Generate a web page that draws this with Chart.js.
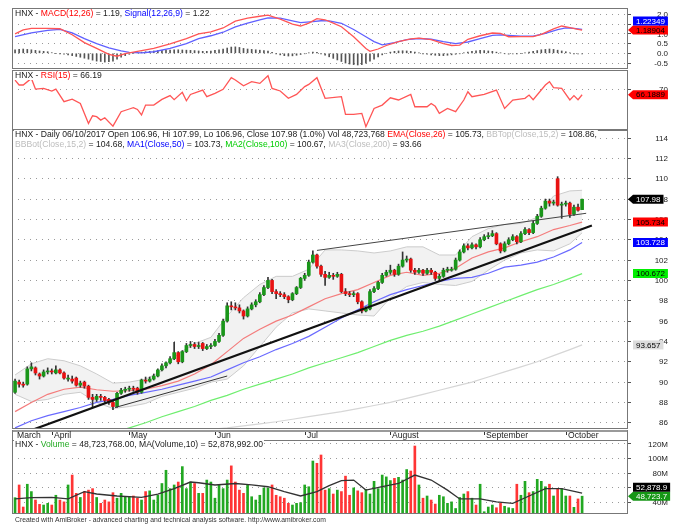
<!DOCTYPE html>
<html>
<head>
<meta charset="utf-8">
<script src="https://cdn.jsdelivr.net/npm/chart.js@4.4.1/dist/chart.umd.min.js"></script>
<style>
  html, body { margin: 0; padding: 0; background: #fff; }
  #wrap { position: relative; width: 678px; height: 524px; }
  #wrap canvas { position: absolute; left: 0; top: 0; }
</style>
</head>
<body>
<div id="wrap">
  <canvas id="priceChart" width="678" height="524"></canvas>
  <canvas id="macdChart" width="678" height="524"></canvas>
  <canvas id="rsiChart" width="678" height="524"></canvas>
  <canvas id="volumeChart" width="678" height="524"></canvas>
</div>
<script>
// month labels on the date strip, bar index where each month starts
var months = ['March', 'April', 'May', 'Jun', 'Jul', 'August', 'September', 'October'];
var monthStart = [0, 9, 28, 49, 71, 92, 115, 135];

// daily candles, HNX index (bar 0 = 21/03/2017, bar 139 = 06/10/2017)
var opens = [
    89.0, 90.0, 89.8, 89.8, 91.3, 91.4, 90.8, 90.6, 91.0, 91.1,
    90.9, 91.2, 90.9, 90.3, 90.3, 90.4, 89.7, 90.0, 89.6, 88.5,
    88.3, 88.6, 88.5, 88.3, 88.0, 87.6, 88.9, 89.2, 89.3, 89.4,
    89.4, 89.0, 90.2, 90.1, 90.3, 90.6, 91.2, 91.6, 91.9, 92.3,
    92.9, 92.0, 93.0, 93.6, 93.7, 93.5, 93.8, 93.3, 93.5, 93.6,
    94.0, 94.6, 96.0, 97.5, 97.4, 97.3, 97.0, 96.5, 97.2, 97.6,
    97.9, 98.6, 99.3, 100.0, 98.9, 98.7, 98.6, 98.4, 98.1, 98.7,
    99.3, 100.2, 100.5, 101.8, 102.5, 101.4, 100.6, 100.3, 100.5, 100.4,
    100.6, 98.9, 98.7, 98.6, 98.7, 97.9, 97.0, 97.2, 98.9, 99.2,
    99.8, 100.5, 100.8, 101.0, 100.6, 101.4, 102.0, 102.1, 101.0, 100.8,
    101.0, 100.7, 101.0, 100.8, 100.2, 100.4, 101.0, 101.0, 101.1, 102.0,
    102.8, 103.4, 103.2, 103.5, 103.3, 104.0, 104.3, 104.4, 104.6, 103.6,
    102.9, 103.6, 104.0, 104.3, 103.8, 104.6, 105.0, 104.7, 105.6, 106.3,
    107.1, 107.8, 107.6, 110.0, 107.4, 107.5, 107.6, 106.5, 107.2, 106.96
];
var highs = [
    90.3, 90.2, 90.0, 91.5, 91.9, 91.5, 90.9, 91.2, 91.4, 91.3,
    91.6, 91.3, 91.0, 90.7, 90.6, 90.5, 90.1, 90.1, 89.7, 88.8,
    88.8, 88.8, 88.6, 88.4, 88.1, 89.0, 89.4, 89.5, 89.6, 89.6,
    89.5, 90.3, 90.5, 90.5, 90.8, 91.3, 91.8, 92.0, 92.5, 93.9,
    93.0, 93.1, 93.8, 94.0, 93.9, 93.9, 93.9, 93.7, 93.8, 94.2,
    94.8, 96.2, 97.8, 97.9, 97.8, 97.6, 97.1, 97.4, 97.8, 98.1,
    98.8, 99.5, 100.3, 100.1, 99.1, 98.9, 98.8, 98.5, 98.8, 99.4,
    100.3, 100.7, 102.0, 102.9, 102.6, 101.5, 100.9, 100.8, 100.7, 100.8,
    100.7, 99.2, 98.9, 98.9, 98.8, 98.0, 97.4, 99.1, 99.4, 99.9,
    100.7, 101.0, 101.5, 101.1, 101.6, 102.8, 102.4, 102.2, 101.2, 101.2,
    101.1, 101.2, 101.2, 100.9, 100.6, 101.2, 101.3, 101.3, 102.2, 103.0,
    103.6, 103.6, 103.7, 103.6, 104.2, 104.5, 104.7, 104.9, 104.7, 103.7,
    103.8, 104.2, 104.5, 104.4, 104.8, 105.2, 105.1, 105.8, 106.5, 107.3,
    108.0, 108.0, 107.9, 110.2, 107.7, 107.8, 107.7, 107.4, 107.5, 107.99
];
var lows = [
    88.9, 89.5, 89.5, 89.7, 91.1, 90.7, 90.3, 90.5, 90.8, 90.8,
    90.8, 90.8, 90.3, 90.1, 89.9, 89.6, 89.5, 89.4, 88.3, 87.5,
    88.1, 88.2, 88.0, 87.8, 87.3, 87.5, 88.8, 89.0, 89.1, 89.1,
    88.8, 88.9, 89.9, 90.0, 90.2, 90.5, 91.1, 91.4, 91.8, 92.2,
    91.8, 91.9, 92.9, 93.4, 93.3, 93.3, 93.1, 93.2, 93.3, 93.5,
    93.9, 94.5, 95.9, 97.1, 97.1, 96.8, 96.2, 96.4, 97.1, 97.4,
    97.8, 98.5, 99.2, 98.7, 98.2, 98.4, 98.2, 97.8, 98.0, 98.6,
    99.2, 100.0, 100.4, 101.7, 101.2, 100.4, 99.5, 100.2, 100.1, 100.3,
    98.8, 98.5, 98.4, 98.4, 97.7, 96.8, 96.9, 97.1, 98.8, 99.1,
    99.7, 100.4, 100.6, 100.4, 100.5, 101.3, 101.8, 100.8, 100.6, 100.7,
    100.5, 100.6, 100.6, 100.0, 99.9, 100.3, 100.8, 100.9, 101.0, 101.9,
    102.7, 103.0, 103.1, 103.1, 103.2, 103.9, 104.1, 104.3, 103.5, 102.7,
    102.8, 103.5, 103.9, 103.6, 103.7, 104.5, 104.5, 104.6, 105.5, 106.2,
    107.0, 107.3, 107.4, 107.3, 106.1, 107.3, 106.2, 106.4, 106.8, 106.96
];
var closes = [
    90.1, 89.8, 89.7, 91.3, 91.5, 90.9, 90.6, 91.0, 91.1, 91.0,
    91.2, 90.9, 90.4, 90.3, 90.1, 89.7, 89.9, 89.6, 88.5, 88.3,
    88.6, 88.5, 88.2, 88.0, 87.6, 88.9, 89.2, 89.3, 89.4, 89.3,
    89.0, 90.2, 90.1, 90.3, 90.6, 91.2, 91.6, 91.9, 92.3, 92.9,
    92.0, 93.0, 93.6, 93.7, 93.5, 93.6, 93.3, 93.5, 93.6, 94.0,
    94.6, 96.0, 97.5, 97.4, 97.3, 97.0, 96.5, 97.2, 97.6, 97.9,
    98.6, 99.3, 100.0, 98.9, 98.7, 98.6, 98.4, 98.1, 98.7, 99.3,
    100.2, 100.5, 101.8, 102.5, 101.4, 100.6, 100.3, 100.5, 100.4, 100.6,
    98.9, 98.7, 98.6, 98.7, 97.9, 97.0, 97.2, 98.9, 99.2, 99.8,
    100.5, 100.8, 101.0, 100.6, 101.4, 102.0, 102.1, 101.0, 100.8, 101.0,
    100.7, 101.0, 100.8, 100.2, 100.4, 101.0, 101.0, 101.1, 102.0, 102.8,
    103.4, 103.2, 103.5, 103.3, 104.0, 104.3, 104.4, 104.6, 103.6, 102.9,
    103.6, 104.0, 104.3, 103.8, 104.6, 105.0, 104.7, 105.6, 106.3, 107.1,
    107.8, 107.6, 107.6, 107.4, 107.5, 107.6, 106.5, 107.2, 106.9, 107.98
];
// volume in millions
var volumes = [
    46.7, 64, 34, 65, 55, 43.5, 37.6, 36.7, 39, 36.7,
    50, 43.5, 41, 64, 77.5, 52.6, 47, 55, 57, 59,
    47, 39, 43.5, 41, 53.5, 46, 52.6, 48, 48, 49,
    46, 43.5, 55, 56, 43.5, 50, 66, 84, 59, 64,
    68, 89, 59, 68, 66, 52.6, 52.6, 70.7, 68, 46,
    64, 59, 70.7, 90, 68, 57, 52.6, 64, 48, 43.5,
    50, 60, 60, 64, 50, 48, 46, 39, 36.7, 39,
    40, 64, 61.6, 96.6, 93.5, 104.8, 57, 59, 51.7, 57,
    55, 76, 50, 60, 56, 53.5, 58, 51.7, 69, 59,
    77.5, 75, 70, 73, 74.4, 70.7, 85, 83, 117, 64,
    46, 49, 43.5, 38, 50, 48, 39, 41, 32, 47,
    51.7, 55, 46, 36.7, 65, 27.6, 34, 36.7, 33, 39,
    35, 33, 32, 65, 50, 69, 53.5, 55, 71.7, 69,
    61.6, 65, 49, 59, 59, 49, 49, 33.6, 45, 48.723768
];

// price overlays read at these bars
var overlayIdx = [0, 4, 8, 12, 16, 20, 24, 28, 32, 36, 40, 44, 48, 52, 56, 60, 64, 68,
    72, 76, 80, 84, 88, 92, 96, 100, 104, 108, 112, 116, 120, 124, 128, 132, 136, 139];
var ema26 = [87.1, 88.0, 88.8, 89.3, 89.5, 89.25, 89.1, 89.15, 89.3, 89.65, 90.1, 90.8, 91.7, 93.0, 94.3, 95.2, 96.0, 96.6,
    97.4, 98.2, 98.7, 99.1, 99.8, 100.5, 100.8, 100.5, 100.7, 101.2, 102.2, 102.8, 103.2, 103.8, 104.3, 105.0, 105.4, 105.734];
var ma50 = [85.5, 86.2, 86.7, 87.1, 87.5, 88.0, 88.3, 88.7, 89.0, 89.3, 89.7, 90.1, 90.5, 91.2, 91.9, 92.5, 93.2, 93.8,
    94.5, 95.4, 96.3, 97.1, 97.9, 98.6, 99.1, 99.5, 99.9, 100.2, 100.3, 100.7, 101.3, 101.5, 101.8, 102.3, 103.0, 103.728];
var ma100 = [81.8, 82.3, 82.9, 83.4, 84.0, 84.5, 85.0, 85.5, 86.0, 86.6, 87.1, 87.6, 88.2, 88.7, 89.3, 89.8, 90.3, 90.8,
    91.4, 91.9, 92.4, 92.9, 93.5, 94.1, 94.6, 95.0, 95.5, 96.1, 96.7, 97.3, 97.9, 98.5, 99.1, 99.6, 100.2, 100.672];
var ma200 = [83.2, 83.4, 83.6, 83.8, 84.0, 84.2, 84.4, 84.6, 84.8, 84.95, 85.1, 85.25, 85.35, 85.5, 85.7, 85.9, 86.1, 86.35,
    86.6, 86.85, 87.1, 87.4, 87.7, 88.0, 88.4, 88.8, 89.2, 89.6, 90.0, 90.5, 91.0, 91.5, 92.0, 92.6, 93.2, 93.657];
var bbTop = [90.7, 91.8, 92.3, 92.1, 91.6, 90.8, 89.9, 90.0, 90.3, 91.1, 92.8, 93.8, 94.4, 96.5, 98.3, 99.6, 100.4, 100.4,
    101.1, 103.0, 103.0, 102.9, 102.7, 102.9, 103.3, 103.3, 102.5, 102.5, 104.3, 105.1, 105.5, 105.6, 106.2, 108.3, 108.8, 108.86];
var bbBot = [88.8, 88.1, 88.3, 88.8, 89.0, 88.0, 87.4, 87.6, 87.9, 88.6, 89.0, 89.4, 90.0, 90.3, 91.6, 93.5, 95.4, 96.8,
    97.2, 97.0, 96.8, 96.6, 96.5, 98.3, 99.4, 99.8, 99.6, 99.5, 99.9, 101.0, 102.0, 102.7, 103.0, 102.9, 103.6, 104.68];

// drawn trend lines (bar, price)
var supportIdx = [3.5, 141.4];
var supportVals = [85.2, 105.4];
var aprilLineIdx = [24.5, 52];
var aprilLineVals = [87.5, 90.6];
var upperLineIdx = [74, 140];
var upperLineVals = [102.95, 106.6];

// MACD(12,26), signal(12,26,9), histogram
var macdIdx = [0, 2, 4, 8, 11, 14, 17, 20, 23, 25, 27, 30, 34, 38, 42, 45, 48, 51, 54, 57, 60, 62, 65, 68, 70, 72, 74, 76, 78, 80,
    83, 86, 87, 89, 91, 94, 97, 99, 102, 105, 107, 109, 111, 114, 117, 119, 121, 124, 127, 129, 132, 134, 136, 138, 139];
var macdVals = [1.00, 1.20, 1.28, 1.28, 1.26, 0.95, 0.55, 0.25, -0.05, -0.15, -0.02, 0.10, 0.25, 0.48, 0.75, 1.00, 1.10, 1.30, 1.65, 1.80,
    1.90, 1.96, 1.75, 1.50, 1.40, 1.55, 1.78, 1.72, 1.55, 1.36, 0.85, 0.25, 0.10, 0.22, 0.40, 0.60, 0.74, 0.78, 0.70, 0.50,
    0.40, 0.42, 0.72, 0.90, 1.04, 1.02, 0.85, 0.86, 0.86, 0.97, 1.25, 1.40, 1.32, 1.23, 1.18904];
var signalIdx = [0, 4, 8, 11, 14, 17, 20, 23, 26, 28, 31, 34, 38, 42, 45, 48, 51, 54, 57, 60, 62, 65, 68, 70, 73,
    75, 77, 80, 83, 86, 88, 90, 93, 96, 99, 102, 105, 108, 111, 114, 117, 119, 121, 124, 127, 130, 133, 135, 137, 139];
var signalVals = [0.85, 1.05, 1.18, 1.23, 1.05, 0.75, 0.50, 0.28, 0.12, 0.05, 0.02, 0.08, 0.25, 0.50, 0.75, 0.90, 1.08, 1.35, 1.55, 1.72,
    1.82, 1.80, 1.66, 1.57, 1.62, 1.67, 1.66, 1.54, 1.22, 0.85, 0.60, 0.43, 0.55, 0.70, 0.76, 0.72, 0.60, 0.50, 0.58, 0.75,
    0.92, 0.94, 0.92, 0.88, 0.88, 1.02, 1.22, 1.30, 1.28, 1.22349];
var macdHist = [
    0.18, 0.20, 0.22, 0.20, 0.18, 0.15, 0.12, 0.10, 0.08, 0.03,
    0.00, -0.02, -0.05, -0.08, -0.12, -0.16, -0.20, -0.25, -0.30, -0.35,
    -0.40, -0.42, -0.45, -0.43, -0.40, -0.30, -0.20, -0.12, -0.05, 0.00,
    0.03, 0.06, 0.08, 0.10, 0.12, 0.14, 0.15, 0.16, 0.17, 0.18,
    0.18, 0.17, 0.16, 0.15, 0.14, 0.12, 0.10, 0.10, 0.12, 0.15,
    0.18, 0.22, 0.27, 0.32, 0.33, 0.30, 0.25, 0.22, 0.20, 0.18,
    0.16, 0.14, 0.12, 0.05, -0.02, -0.08, -0.12, -0.14, -0.13, -0.10,
    -0.06, -0.02, 0.02, 0.06, 0.05, -0.02, -0.10, -0.18, -0.26, -0.34,
    -0.42, -0.50, -0.55, -0.58, -0.60, -0.58, -0.50, -0.40, -0.30, -0.18,
    -0.08, 0.00, 0.06, 0.10, 0.12, 0.13, 0.12, 0.10, 0.06, 0.02,
    -0.02, -0.05, -0.08, -0.10, -0.12, -0.12, -0.10, -0.08, -0.05, -0.02,
    0.02, 0.06, 0.10, 0.13, 0.15, 0.14, 0.12, 0.10, 0.06, 0.02,
    -0.02, -0.04, -0.03, -0.02, 0.00, 0.03, 0.06, 0.10, 0.14, 0.18,
    0.20, 0.22, 0.20, 0.16, 0.12, 0.08, 0.02, -0.01, -0.03, -0.03
];

// RSI(15)
var rsiIdx = [0, 1, 2, 4, 5, 7, 9, 10, 12, 14, 16, 18, 19, 20, 21, 22, 24, 26, 28, 29, 30, 31, 32, 34, 36, 38, 39, 41, 42, 43,
    46, 47, 49, 51, 53, 54, 56, 58, 60, 62, 63, 65, 67, 69, 71, 72, 74, 76, 80, 81, 83, 85, 86, 88, 90, 92, 94, 97, 98,
    101, 102, 103, 104, 106, 108, 110, 111, 112, 115, 118, 120, 122, 125, 126, 127, 130, 131, 132, 134, 136, 137, 138, 139];
var rsiVals = [76, 72.7, 72.7, 77.1, 70, 70.4, 68.7, 70, 61.6, 63.3, 60.4, 47.1, 52.2, 51.6, 49.3, 50.9, 45.3, 54.9, 56.7, 57.6,
    56.4, 52.7, 59.3, 59.3, 63.1, 65.6, 62.9, 67.8, 62.2, 66.4, 69.3, 64.9, 67.1, 69.8, 77.6, 76, 72.2, 74.9, 73.8, 78.9,
    70.4, 68.7, 63.8, 66.4, 71.6, 73.1, 77.6, 63.8, 64.9, 53.1, 53.1, 53.8, 44.9, 57.1, 59.3, 64.2, 62.7, 66.4, 58.2,
    58.2, 60.4, 58.5, 53.8, 57.1, 54.9, 62.7, 68.2, 64.9, 66.4, 69.3, 57.1, 62.7, 63.8, 66, 62.9, 72.7, 74.9, 70.9, 70.4,
    62.7, 65.6, 62.9, 66.1889];

// MA(Volume,10), millions
var volMaIdx = [0, 4, 9, 13, 17, 20, 25, 31, 35, 39, 43, 45, 49, 54, 58, 62, 66, 70, 74, 77, 80, 83, 86, 90, 94, 98, 102, 106,
    109, 114, 118, 122, 126, 130, 134, 139];
var volMaVals = [45, 46.7, 47, 45, 55, 51.7, 49, 47, 51.7, 59, 68, 67, 64, 66, 64, 61.6, 55, 49, 55, 63, 70, 70.7, 57, 61.6, 66,
    77.5, 70.7, 57, 45, 45, 41, 39, 49, 59, 59, 52.878992];

// axis ticks
var priceTicks = [86, 88, 90, 92, 94, 96, 98, 100, 102, 104, 106, 108, 110, 112, 114];
var macdTicks = [-0.5, 0, 0.5, 1, 1.5, 2];
var rsiTicks = [70];
var volumeTicks = [40, 60, 80, 100, 120];

var FONT = '"Liberation Sans", Arial, sans-serif';
var DARK = '#222222';
var RED = '#ff0000', BLUE = '#0000ff', GREEN = '#00cc00', LIGHT = '#bdbdbd';

document.addEventListener('DOMContentLoaded', function () {
    Chart.defaults.font.family = FONT;
    Chart.defaults.font.size = 8;
    Chart.defaults.color = DARK;

    var last = closes.length - 1;

    function points(idx, vals) {
        return idx.map(function (x, k) { return { x: x, y: vals[k] }; });
    }

    function lineSet(data, color, width, order) {
        return { type: 'line', data: data, borderColor: color, borderWidth: width, pointRadius: 0,
            tension: 0, fill: false, order: order, clip: 0 };
    }

    function money(v, digits) {
        return v.toLocaleString('en-US', { minimumFractionDigits: digits, maximumFractionDigits: digits });
    }

    function options(top, bottom, yMin, yMax, ticks) {
        return {
            responsive: false,
            animation: false,
            events: [],
            layout: { padding: { left: 12, right: 0, top: top, bottom: 524 - bottom } },
            plugins: { legend: { display: false }, tooltip: { enabled: false } },
            scales: {
                x: { type: 'linear', min: -0.75, max: 150.25, offset: false, display: false },
                y: {
                    position: 'right',
                    min: yMin,
                    max: yMax,
                    afterBuildTicks: function (s) { s.ticks = ticks.map(function (v) { return { value: v }; }); },
                    afterFit: function (s) { s.width = 50; },
                    ticks: { display: false },
                    grid: { color: '#9a9a9a', lineWidth: 1, tickLength: 3, tickColor: '#555', tickBorderDash: [] },
                    border: { display: false, dash: [1, 5] }
                }
            }
        };
    }

    function frame(ctx, a) {
        ctx.save();
        ctx.strokeStyle = '#777';
        ctx.lineWidth = 1;
        ctx.strokeRect(a.left + 0.5, a.top + 0.5, a.right - a.left - 1, a.bottom - a.top - 1);
        ctx.restore();
    }

    // right-aligned value labels of the right axis
    function axisLabels(chart, ticks, fmt) {
        var ctx = chart.ctx, ys = chart.scales.y;
        ctx.save();
        ctx.font = '8px ' + FONT;
        ctx.textBaseline = 'middle';
        ctx.textAlign = 'right';
        ctx.fillStyle = DARK;
        ticks.forEach(function (v) {
            ctx.fillText(fmt(v), 668, ys.getPixelForValue(v) + 0.5);
        });
        ctx.restore();
    }

    function title(ctx, x, y, segs) {
        ctx.save();
        ctx.font = '8.6px ' + FONT;
        ctx.textBaseline = 'middle';
        ctx.textAlign = 'left';
        var w = 0;
        segs.forEach(function (s) { w += ctx.measureText(s[0]).width; });
        ctx.fillStyle = '#fff';
        ctx.fillRect(x - 1, y - 4.5, w + 2, 9);
        segs.forEach(function (s) {
            ctx.fillStyle = s[1] || DARK;
            ctx.fillText(s[0], x, y);
            x += ctx.measureText(s[0]).width;
        });
        ctx.restore();
    }

    function badges(chart, list) {
        var ctx = chart.ctx, a = chart.chartArea, ys = chart.scales.y, h = 9, placed = [];
        ctx.save();
        ctx.font = '8px ' + FONT;
        ctx.textBaseline = 'middle';
        ctx.textAlign = 'left';
        list.forEach(function (b) {
            var py = ys.getPixelForValue(b.value);
            placed.forEach(function (p) { if (Math.abs(p - py) < h) { py = p - h; } });
            placed.push(py);
            var x0 = a.right + 5, x1 = x0 + ctx.measureText(b.text).width + 6;
            ctx.beginPath();
            if (b.arrow) {
                ctx.moveTo(a.right, py);
                ctx.lineTo(x0, py - h / 2);
            } else {
                ctx.moveTo(x0, py - h / 2);
            }
            ctx.lineTo(x1, py - h / 2);
            ctx.lineTo(x1, py + h / 2);
            ctx.lineTo(x0, py + h / 2);
            ctx.closePath();
            ctx.fillStyle = b.bg;
            ctx.fill();
            ctx.fillStyle = b.fg;
            ctx.fillText(b.text, x0 + 3, py + 0.5);
        });
        ctx.restore();
    }

    var UP = '#1a961a', DOWN = '#e81212';
    var candleColors = closes.map(function (c, i) { return c >= opens[i] ? UP : DOWN; });
    var volColors = closes.map(function (c, i) { return c >= opens[i] ? '#22a822' : '#ff3535'; });

    // ---- price panel ----
    var pricePanel = {
        id: 'pricePanel',
        afterDraw: function (chart) {
            var ctx = chart.ctx, a = chart.chartArea, xs = chart.scales.x;
            frame(ctx, a);
            axisLabels(chart, priceTicks, function (v) { return String(v); });
            var chg = (closes[last] / closes[last - 1] - 1) * 100;
            title(ctx, 15, a.top + 4.5, [
                ['HNX - Daily 06/10/2017 Open ' + opens[last].toFixed(2) + ', Hi ' + highs[last].toFixed(2) +
                    ', Lo ' + lows[last].toFixed(2) + ', Close ' + closes[last].toFixed(2) + ' (' + chg.toFixed(1) +
                    '%) Vol ' + money(volumes[last] * 1e6, 0) + ' '],
                ['EMA(Close,26)', RED], [' = ' + ema26[ema26.length - 1].toFixed(2) + ', '],
                ['BBTop(Close,15,2)', LIGHT], [' = ' + bbTop[bbTop.length - 1].toFixed(2) + ',']
            ]);
            title(ctx, 15, a.top + 14.5, [
                ['BBBot(Close,15,2)', LIGHT], [' = ' + bbBot[bbBot.length - 1].toFixed(2) + ', '],
                ['MA1(Close,50)', BLUE], [' = ' + ma50[ma50.length - 1].toFixed(2) + ', '],
                ['MA2(Close,100)', GREEN], [' = ' + ma100[ma100.length - 1].toFixed(2) + ', '],
                ['MA3(Close,200)', LIGHT], [' = ' + ma200[ma200.length - 1].toFixed(2)]
            ]);

            // date strip under the price panel
            ctx.save();
            var top = a.bottom + 1;
            ctx.fillStyle = '#fff';
            ctx.fillRect(a.left, top, a.right - a.left, 10);
            ctx.strokeStyle = '#9a9a9a';
            ctx.lineWidth = 2;
            ctx.beginPath();
            ctx.moveTo(a.left, top + 1);
            ctx.lineTo(a.right, top + 1);
            ctx.stroke();
            ctx.strokeStyle = '#777';
            ctx.lineWidth = 1;
            ctx.beginPath();
            ctx.moveTo(a.left + 0.5, top);
            ctx.lineTo(a.left + 0.5, top + 10);
            ctx.moveTo(a.right - 0.5, top);
            ctx.lineTo(a.right - 0.5, top + 10);
            ctx.stroke();
            ctx.font = '8.6px ' + FONT;
            ctx.textBaseline = 'middle';
            ctx.fillStyle = DARK;
            ctx.strokeStyle = '#333';
            months.forEach(function (m, k) {
                var px = Math.round(xs.getPixelForValue(monthStart[k]));
                if (k > 0) {
                    ctx.beginPath();
                    ctx.moveTo(px + 0.5, top + 2);
                    ctx.lineTo(px + 0.5, top + 5);
                    ctx.stroke();
                }
                ctx.fillText(m, px + 2, top + 5.5);
            });
            ctx.restore();

            badges(chart, [
                { value: closes[last], text: closes[last].toFixed(2), bg: '#000', fg: '#fff', arrow: true },
                { value: ema26[ema26.length - 1], text: ema26[ema26.length - 1].toFixed(3), bg: '#ff0000', fg: '#000' },
                { value: ma50[ma50.length - 1], text: ma50[ma50.length - 1].toFixed(3), bg: '#0000ff', fg: '#fff' },
                { value: ma100[ma100.length - 1], text: ma100[ma100.length - 1].toFixed(3), bg: '#00ee00', fg: '#000' },
                { value: ma200[ma200.length - 1], text: ma200[ma200.length - 1].toFixed(3), bg: '#dcdcdc', fg: '#000' }
            ]);
        }
    };

    var priceCtx = document.getElementById('priceChart').getContext('2d');
    new Chart(priceCtx, {
        type: 'bar',
        data: {
            datasets: [
                Object.assign(lineSet(points(overlayIdx, bbTop), '#cccccc', 1, 11), { fill: '+1', backgroundColor: '#f2f2f2' }),
                lineSet(points(overlayIdx, bbBot), '#cccccc', 1, 10),
                lineSet(points(overlayIdx, ma200), '#d6d6d6', 1.2, 9),
                lineSet(points(overlayIdx, ma100), '#6fee6f', 1.2, 8),
                lineSet(points(overlayIdx, ma50), '#6a6aff', 1.2, 7),
                lineSet(points(overlayIdx, ema26), '#f47c7c', 1.2, 6),
                {
                    type: 'bar', order: 3, grouped: false, barThickness: 1, clip: 0,
                    data: lows.map(function (l, i) { return { x: i, y: [l, highs[i]] }; }),
                    backgroundColor: '#333'
                },
                {
                    type: 'bar', order: 2, grouped: false, barThickness: 3, minBarLength: 1, clip: 0,
                    borderSkipped: false,
                    data: opens.map(function (o, i) { return { x: i, y: [o, closes[i]] }; }),
                    backgroundColor: candleColors
                },
                lineSet(points(supportIdx, supportVals), '#111', 2.2, 1),
                lineSet(points(aprilLineIdx, aprilLineVals), '#333', 1, 1),
                lineSet(points(upperLineIdx, upperLineVals), '#444', 1, 1)
            ]
        },
        options: options(130, 429, 85.39, 114.79, priceTicks),
        plugins: [pricePanel]
    });

    // ---- MACD panel ----
    var macdPanel = {
        id: 'macdPanel',
        afterDraw: function (chart) {
            var a = chart.chartArea;
            frame(chart.ctx, a);
            axisLabels(chart, macdTicks, function (v) { return v.toFixed(1); });
            title(chart.ctx, 15, a.top + 6, [
                ['HNX - '], ['MACD(12,26)', RED], [' = ' + macdVals[macdVals.length - 1].toFixed(2) + ', '],
                ['Signal(12,26,9)', BLUE], [' = ' + signalVals[signalVals.length - 1].toFixed(2)]
            ]);
            badges(chart, [
                { value: macdVals[macdVals.length - 1], text: macdVals[macdVals.length - 1].toFixed(5), bg: '#ff0000', fg: '#000', arrow: true },
                { value: signalVals[signalVals.length - 1], text: signalVals[signalVals.length - 1].toFixed(5), bg: '#0000ff', fg: '#fff' }
            ]);
        }
    };

    var macdCtx = document.getElementById('macdChart').getContext('2d');
    new Chart(macdCtx, {
        type: 'bar',
        data: {
            datasets: [
                {
                    type: 'bar', order: 3, grouped: false, barThickness: 1, clip: 0,
                    data: macdHist.map(function (v, i) { return { x: i, y: v }; }),
                    backgroundColor: '#555'
                },
                lineSet(points(signalIdx, signalVals), '#6060ff', 1.3, 2),
                lineSet(points(macdIdx, macdVals), '#ff5555', 1.3, 1)
            ]
        },
        options: options(8, 69, -0.805, 2.323, macdTicks),
        plugins: [macdPanel]
    });

    // ---- RSI panel ----
    var rsiPanel = {
        id: 'rsiPanel',
        afterDraw: function (chart) {
            var a = chart.chartArea;
            frame(chart.ctx, a);
            axisLabels(chart, rsiTicks, function (v) { return String(v); });
            title(chart.ctx, 15, a.top + 5.5, [
                ['HNX - '], ['RSI(15)', RED], [' = ' + rsiVals[rsiVals.length - 1].toFixed(2)]
            ]);
            badges(chart, [
                { value: rsiVals[rsiVals.length - 1], text: rsiVals[rsiVals.length - 1].toFixed(4), bg: '#ff0000', fg: '#000', arrow: true }
            ]);
        }
    };

    var rsiCtx = document.getElementById('rsiChart').getContext('2d');
    new Chart(rsiCtx, {
        type: 'line',
        data: {
            datasets: [lineSet(points(rsiIdx, rsiVals), '#ff5555', 1.3, 1)]
        },
        options: options(70, 130, 42.7, 82.7, rsiTicks),
        plugins: [rsiPanel]
    });

    // ---- volume panel ----
    var volumePanel = {
        id: 'volumePanel',
        afterDraw: function (chart) {
            var ctx = chart.ctx, a = chart.chartArea;
            frame(ctx, a);
            axisLabels(chart, volumeTicks, function (v) { return v + 'M'; });
            var vLast = volumes[last] * 1e6, maLast = volMaVals[volMaVals.length - 1] * 1e6;
            title(ctx, 15, a.top + 4.5, [
                ['HNX - '], ['Volume', '#22aa22'],
                [' = ' + money(vLast, 2) + ', MA(Volume,10) = ' + money(maLast, 2)]
            ]);
            badges(chart, [
                { value: volumes[last], text: money(Math.floor(vLast / 100) / 10, 1), bg: '#169616', fg: '#fff', arrow: true },
                { value: volMaVals[volMaVals.length - 1], text: money(Math.floor(maLast / 100) / 10, 1), bg: '#000', fg: '#fff' }
            ]);
            ctx.save();
            ctx.font = '6.8px ' + FONT;
            ctx.fillStyle = '#333';
            ctx.textBaseline = 'middle';
            ctx.fillText('Created with AmiBroker - advanced charting and technical analysis software. http://www.amibroker.com', 15, 520);
            ctx.restore();
        }
    };

    var volumeCtx = document.getElementById('volumeChart').getContext('2d');
    new Chart(volumeCtx, {
        type: 'bar',
        data: {
            datasets: [
                {
                    type: 'bar', order: 2, grouped: false, barThickness: 2, clip: 0,
                    data: volumes.map(function (v, i) { return { x: i, y: v }; }),
                    backgroundColor: volColors
                },
                lineSet(points(volMaIdx, volMaVals), '#333', 1.3, 1)
            ]
        },
        options: options(440, 514, 24.5, 125.2, volumeTicks),
        plugins: [volumePanel]
    });
});
</script>
</body>
</html>
